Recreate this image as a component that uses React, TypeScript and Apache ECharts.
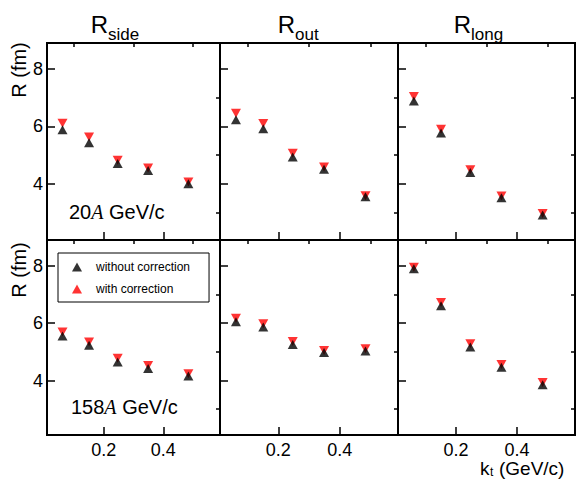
import React, { useEffect, useRef } from 'react';
import * as echarts from 'echarts';

// ---- data ----
const kt = [0.062, 0.151, 0.247, 0.349, 0.484];
const panelSubscripts = ['side', 'out', 'long'];
const energyLabels = ['20', '158'];
const seriesNames = ['without correction', 'with correction'];
const xMajorTicks = [0.2, 0.4];
const xMinorTicks = [0.1, 0.3, 0.5];
const yMajorTicks = [4, 6, 8];
const yMinorTicks = [3, 5, 7];

// 20A GeV/c (top row)
const side20Without = [5.88, 5.43, 4.71, 4.47, 4.01];
const side20With = [6.11, 5.63, 4.82, 4.55, 4.07];
const out20Without = [6.23, 5.92, 4.94, 4.51, 3.55];
const out20With = [6.46, 6.1, 5.07, 4.59, 3.59];
const long20Without = [6.88, 5.77, 4.4, 3.52, 2.92];
const long20With = [7.04, 5.9, 4.49, 3.58, 2.97];

// 158A GeV/c (bottom row)
const side158Without = [5.55, 5.23, 4.65, 4.42, 4.16];
const side158With = [5.69, 5.34, 4.78, 4.52, 4.24];
const out158Without = [6.05, 5.87, 5.26, 4.98, 5.03];
const out158With = [6.17, 5.98, 5.36, 5.05, 5.11];
const long158Without = [7.9, 6.61, 5.17, 4.46, 3.85];
const long158With = [7.95, 6.72, 5.28, 4.56, 3.93];

const panelData = [
  [[side20Without, side20With], [out20Without, out20With], [long20Without, long20With]],
  [[side158Without, side158With], [out158Without, out158With], [long158Without, long158With]],
];

// ---- layout ----
const FAMILY = 'Liberation Sans';
const FONT = 'Liberation Sans, Arial, sans-serif';
const SERIF = 'Liberation Serif, Times New Roman, serif';
const colLefts = [47, 220, 398];
const colWidths = [173, 178, 177];
const rowTops = [43, 240];
const rowHeights = [197, 195];
const rowYMin = [2.05, 2.1];
const yMax = 8.9;
const xMin = 0.01;
const xMax = 0.59;
const titleX = [108, 295, 471];

export default function App() {
  const ref = useRef<HTMLDivElement>(null);

  useEffect(() => {
    if (!ref.current) return;
    const chart = echarts.init(ref.current, undefined, { renderer: 'svg' });

    const grid: any[] = [];
    const xAxis: any[] = [];
    const yAxis: any[] = [];
    const series: any[] = [];

    const tickStyle = { color: '#000', width: 1.5 };

    for (let r = 0; r < 2; r++) {
      for (let c = 0; c < 3; c++) {
        const g = r * 3 + c;
        grid.push({
          left: colLefts[c],
          top: rowTops[r],
          width: colWidths[c],
          height: rowHeights[r],
          show: true,
          borderColor: '#000',
          borderWidth: 2,
          backgroundColor: 'transparent',
        });
        xAxis.push({
          gridIndex: g,
          type: 'value',
          min: xMin,
          max: xMax,
          axisLine: { show: false },
          splitLine: { show: false },
          axisTick: { show: true, inside: true, length: 8, lineStyle: tickStyle, customValues: xMajorTicks },
          axisLabel: {
            show: r === 1,
            customValues: xMajorTicks,
            formatter: (v: number) => v.toFixed(1),
            fontSize: 18,
            fontFamily: FAMILY,
            color: '#000',
            margin: 6,
          },
        });
        xAxis.push({
          gridIndex: g,
          type: 'value',
          min: xMin,
          max: xMax,
          axisLine: { show: false },
          splitLine: { show: false },
          axisTick: { show: true, inside: true, length: 4, lineStyle: tickStyle, customValues: xMinorTicks },
          axisLabel: { show: false },
        });
        yAxis.push({
          gridIndex: g,
          type: 'value',
          min: rowYMin[r],
          max: yMax,
          axisLine: { show: false },
          splitLine: { show: false },
          axisTick: { show: true, inside: true, length: 8, lineStyle: tickStyle, customValues: yMajorTicks },
          axisLabel: {
            show: c === 0,
            customValues: yMajorTicks,
            fontSize: 18,
            fontFamily: FAMILY,
            color: '#000',
            margin: 4,
          },
        });
        yAxis.push({
          gridIndex: g,
          type: 'value',
          min: rowYMin[r],
          max: yMax,
          axisLine: { show: false },
          splitLine: { show: false },
          axisTick: { show: true, inside: true, length: 4, lineStyle: tickStyle, customValues: yMinorTicks },
          axisLabel: { show: false },
        });

        const [wo, w] = panelData[r][c];
        series.push({
          type: 'scatter',
          name: seriesNames[1],
          xAxisIndex: g * 2,
          yAxisIndex: g * 2,
          symbol: 'triangle',
          symbolRotate: 180,
          symbolSize: [10, 9],
          itemStyle: { color: '#ff0000' },
          data: kt.map((x, i) => [x, w[i]]),
          z: 3,
        });
        series.push({
          type: 'scatter',
          name: seriesNames[0],
          xAxisIndex: g * 2,
          yAxisIndex: g * 2,
          symbol: 'triangle',
          symbolSize: [10, 9],
          itemStyle: { color: '#000000' },
          data: kt.map((x, i) => [x, wo[i]]),
          z: 4,
        });
      }
    }

    const graphic: any[] = [];
    for (let c = 0; c < 3; c++) {
      graphic.push({
        type: 'text',
        x: titleX[c],
        y: 24,
        style: { text: 'R', font: `24px ${FONT}`, align: 'right', verticalAlign: 'middle', fill: '#000' },
      });
      graphic.push({
        type: 'text',
        x: titleX[c],
        y: 34,
        style: { text: panelSubscripts[c], font: `17px ${FONT}`, align: 'left', verticalAlign: 'middle', fill: '#000' },
      });
    }
    const yTitleCenters = [70, 270];
    for (let r = 0; r < 2; r++) {
      graphic.push({
        type: 'text',
        x: 19,
        y: yTitleCenters[r],
        rotation: Math.PI / 2,
        style: { text: 'R (fm)', font: `20px ${FONT}`, align: 'center', verticalAlign: 'middle', fill: '#000' },
      });
    }
    const energyPos = [
      [69, 211.5],
      [71, 406.5],
    ];
    for (let r = 0; r < 2; r++) {
      graphic.push({
        type: 'text',
        x: energyPos[r][0],
        y: energyPos[r][1],
        style: {
          text: `{n|${energyLabels[r]}}{i|A}{n| GeV/c}`,
          align: 'left',
          verticalAlign: 'middle',
          fill: '#000',
          rich: {
            n: { font: `20px ${FONT}`, fill: '#000' },
            i: { font: `italic 20px ${SERIF}`, fill: '#000' },
          },
        },
      });
    }
    graphic.push({
      type: 'text',
      x: 480,
      y: 468,
      style: { text: 'k', font: `19px ${FONT}`, align: 'left', verticalAlign: 'middle', fill: '#000' },
    });
    graphic.push({
      type: 'text',
      x: 490,
      y: 472,
      style: { text: 't', font: `12px ${FONT}`, align: 'left', verticalAlign: 'middle', fill: '#000' },
    });
    graphic.push({
      type: 'text',
      x: 499,
      y: 468,
      style: { text: '(GeV/c)', font: `19px ${FONT}`, align: 'left', verticalAlign: 'middle', fill: '#000' },
    });

    chart.setOption({
      animation: false,
      backgroundColor: '#fff',
      grid,
      xAxis,
      yAxis,
      series,
      graphic,
      legend: {
        data: seriesNames,
        orient: 'vertical',
        left: 58,
        top: 253,
        padding: [8, 19, 7, 14],
        itemGap: 10,
        itemWidth: 10,
        itemHeight: 9,
        borderColor: '#000',
        borderWidth: 1,
        backgroundColor: '#fff',
        selectedMode: false,
        textStyle: { fontSize: 12, fontFamily: FAMILY, color: '#000', padding: [0, 0, 0, 9] },
        z: 10,
      },
    });

    return () => chart.dispose();
  }, []);

  return (
    <div
      ref={ref}
      style={{ position: 'fixed', left: 0, top: 0, width: 576, height: 479, background: '#fff' }}
    />
  );
}
